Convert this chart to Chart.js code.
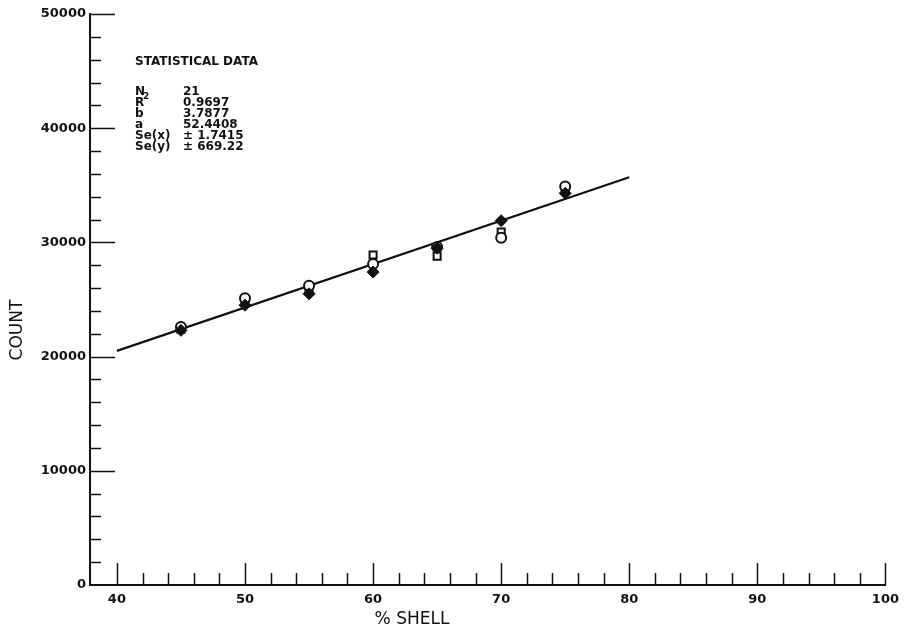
<!DOCTYPE html>
<html>
<head>
<meta charset="utf-8">
<script src="https://cdn.jsdelivr.net/npm/chart.js@4/dist/chart.umd.min.js"></script>
<style>
	html, body { margin: 0; padding: 0; background: #fff; }
</style>
</head>
<body>
<canvas id="chart-shell" width="906" height="637"></canvas>
<script>
// Data
const shell = [45, 50, 55, 60, 65, 70, 75];
const countCircle = [22600, 25100, 26200, 28100, 29600, 30400, 34900];
const countSquare = [22400, 24800, 25800, 28900, 28800, 30900, 34600];
const countFilled = [22300, 24500, 25500, 27400, 29500, 31900, 34300];
const fitX = [40, 80];
const fitY = [20500, 35700];
const xTicks = [40, 50, 60, 70, 80, 90, 100];
const yTicks = [0, 10000, 20000, 30000, 40000, 50000];
const statLabels = ['N', 'R', 'b', 'a', 'Se(x)', 'Se(y)'];
const statValues = ['21', '0.9697', '3.7877', '52.4408', '\u00b1 1.7415', '\u00b1 669.22'];

const pts = (xs, ys) => xs.map((x, i) => ({ x: x, y: ys[i] }));

// inward ticks, axis titles and the statistics box
const plotterBits = {
	id: 'plotterBits',
	afterDraw(chart) {
		const ctx = chart.ctx;
		const xs = chart.scales.x;
		const ys = chart.scales.y;
		const left = chart.chartArea.left;
		const bottom = chart.chartArea.bottom;
		ctx.save();
		ctx.strokeStyle = '#111';
		ctx.lineWidth = 1.5;
		ctx.beginPath();
		for (let v = 40; v <= 100; v += 2) {
			const px = Math.round(xs.getPixelForValue(v)) + 0.5;
			const len = v % 10 === 0 ? 22 : 12;
			ctx.moveTo(px, bottom);
			ctx.lineTo(px, bottom - len);
		}
		for (let v = 2000; v <= 50000; v += 2000) {
			const py = Math.round(ys.getPixelForValue(v)) + 0.5;
			const len = v % 10000 === 0 ? 25 : 11;
			ctx.moveTo(left, py);
			ctx.lineTo(left + len, py);
		}
		ctx.stroke();

		ctx.fillStyle = '#111';
		ctx.font = '17px "DejaVu Sans"';
		ctx.textAlign = 'center';
		ctx.textBaseline = 'middle';
		ctx.fillText('% SHELL', 412, 620);
		ctx.translate(18, 330);
		ctx.rotate(-Math.PI / 2);
		ctx.fillText('COUNT', 0, 0);
		ctx.restore();

		ctx.save();
		ctx.fillStyle = '#111';
		ctx.font = 'bold 12px "DejaVu Sans"';
		ctx.textAlign = 'left';
		ctx.textBaseline = 'middle';
		ctx.fillText('STATISTICAL DATA', 135, 62);
		statLabels.forEach((lab, i) => {
			const y = 92 + i * 11;
			ctx.fillText(lab, 135, y);
			ctx.fillText(statValues[i], 183, y);
		});
		ctx.font = 'bold 9px "DejaVu Sans"';
		ctx.fillText('2', 143, 97);
		ctx.restore();
	}
};

new Chart(document.getElementById('chart-shell'), {
	type: 'scatter',
	data: {
		datasets: [
			{
				label: 'fit',
				type: 'line',
				data: pts(fitX, fitY),
				borderColor: '#111',
				borderWidth: 2.2,
				pointRadius: 0,
				order: 3,
			},
			{
				label: 'circle',
				data: pts(shell, countCircle),
				pointStyle: 'circle',
				pointRadius: 5,
				backgroundColor: '#fff',
				borderColor: '#111',
				borderWidth: 2,
				order: 1,
			},
			{
				label: 'square',
				data: pts(shell, countSquare),
				pointStyle: 'rect',
				pointRadius: 5,
				backgroundColor: '#fff',
				borderColor: '#111',
				borderWidth: 2,
				order: 2,
			},
			{
				label: 'filled',
				data: pts(shell, countFilled),
				pointStyle: 'rectRot',
				pointRadius: 6,
				backgroundColor: '#111',
				borderColor: '#111',
				borderWidth: 1,
				order: 0,
			},
		],
	},
	options: {
		responsive: false,
		animation: false,
		layout: { padding: { top: 14, right: 18, left: 0, bottom: 0 } },
		scales: {
			x: {
				type: 'linear',
				min: 37.9,
				max: 100,
				afterBuildTicks: (s) => { s.ticks = xTicks.map((v) => ({ value: v })); },
				afterFit: (s) => { s.height = 52; },
				grid: { display: false, drawTicks: false },
				border: { display: true, color: '#111', width: 2 },
				ticks: {
					color: '#111',
					padding: 7,
					font: { family: 'DejaVu Sans', size: 13, weight: 'bold' },
				},
			},
			y: {
				min: 0,
				max: 50000,
				afterBuildTicks: (s) => { s.ticks = yTicks.map((v) => ({ value: v })); },
				afterFit: (s) => { s.width = 90; },
				grid: { display: false, drawTicks: false },
				border: { display: true, color: '#111', width: 2 },
				ticks: {
					color: '#111',
					padding: 4,
					callback: (v) => String(v),
					font: { family: 'DejaVu Sans', size: 13, weight: 'bold' },
				},
			},
		},
		plugins: {
			legend: { display: false },
			tooltip: { enabled: false },
		},
	},
	plugins: [plotterBits],
});
</script>
</body>
</html>
